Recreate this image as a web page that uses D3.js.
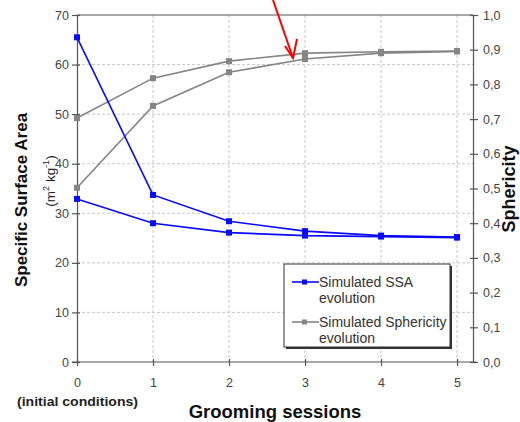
<!DOCTYPE html>
<html><head><meta charset="utf-8">
<script src="https://cdn.jsdelivr.net/npm/d3@7"></script>
<style>body{margin:0;background:#fff}svg{display:block}text{font-family:"Liberation Sans",Arial,sans-serif}</style>
</head><body><svg id="c" width="520" height="422"></svg>
<script>
const sessions = [0,1,2,3,4,5];
const ssaA = [65.5,33.7,28.4,26.4,25.5,25.2];
const ssaB = [32.9,28.0,26.1,25.5,25.3,25.1];
const sphA = [0.703,0.818,0.867,0.890,0.894,0.896];
const sphB = [0.502,0.738,0.835,0.873,0.890,0.895];
const leftTicks = [0,10,20,30,40,50,60,70];
const rightTicks = [0,0.1,0.2,0.3,0.4,0.5,0.6,0.7,0.8,0.9,1.0];
const legendLabels = [["Simulated SSA","evolution"],["Simulated Sphericity","evolution"]];

const svg = d3.select("#c");
const x = d3.scaleLinear().domain([0,5.21]).range([77,473]);
const yL = d3.scaleLinear().domain([0,70]).range([362,15]);
const yR = d3.scaleLinear().domain([0,1]).range([362,15]);
const blue = "#0a0aff", grey = "#858585", axisC = "#555", txtC = "#444";

// grid
const g = svg.append("g");
g.selectAll(".hg").data(leftTicks.filter(d=>d>0&&d<70)).join("line")
 .attr("x1",x(0)).attr("x2",x.range()[1]).attr("y1",d=>yL(d)).attr("y2",d=>yL(d))
 .attr("stroke","#c8c8c8").attr("stroke-dasharray","3,2");
g.selectAll(".vg").data(sessions.filter(d=>d>0)).join("line")
 .attr("x1",d=>x(d)).attr("x2",d=>x(d)).attr("y1",yL(70)).attr("y2",yL(0))
 .attr("stroke","#c8c8c8").attr("stroke-dasharray","3,2");
// top border
svg.append("line").attr("x1",x(0)).attr("x2",x.range()[1]).attr("y1",yL(70)).attr("y2",yL(70)).attr("stroke",axisC).attr("stroke-width",1.2);

// axes
const axL = svg.append("g").attr("transform",`translate(${x(0)},0)`)
 .call(d3.axisLeft(yL).tickValues(leftTicks).tickSize(5).tickPadding(3));
const axR = svg.append("g").attr("transform",`translate(${x.range()[1]},0)`)
 .call(d3.axisRight(yR).tickValues(rightTicks).tickSize(5).tickPadding(5).tickFormat(d=>d3.format(".1f")(d).replace(".",",")));
const axB = svg.append("g").attr("transform",`translate(0,${yL(0)})`)
 .call(d3.axisBottom(x).tickValues(sessions).tickSize(4).tickPadding(12).tickFormat(d3.format("d")));
[axL,axR,axB].forEach(a=>{
  a.select(".domain").attr("stroke",axisC).attr("stroke-width",1.2);
  a.selectAll(".tick line").attr("stroke",axisC).attr("stroke-width",1.2);
  a.selectAll(".tick text").attr("fill",txtC).style("font-size","12.5px").style("font-family","Liberation Sans, Arial, sans-serif");
});
// crossing ticks
axL.selectAll(".tick line").attr("x1",3);
axR.selectAll(".tick line").attr("x1",-3);
axB.selectAll(".tick line").attr("y1",-3);
axB.select(".domain").attr("d",`M72,0H${x.range()[1]+3}`);

// series
function series(vals, scale, color){
  const line = d3.line().x((d,i)=>x(sessions[i])).y(d=>scale(d));
  svg.append("path").attr("d",line(vals)).attr("fill","none").attr("stroke",color).attr("stroke-width",1.6);
  svg.append("g").selectAll("rect").data(vals).join("rect")
   .attr("x",(d,i)=>x(sessions[i])-3).attr("y",d=>scale(d)-3).attr("width",6).attr("height",6).attr("fill",color);
}
series(sphA,yR,grey);
series(sphB,yR,grey);
series(ssaA,yL,blue);
series(ssaB,yL,blue);

// legend
const lg = svg.append("g");
lg.append("rect").attr("x",286).attr("y",266).attr("width",166).attr("height",83).attr("fill","#333");
lg.append("rect").attr("x",284).attr("y",264).attr("width",166).attr("height",83).attr("fill","#fff").attr("stroke","#333").attr("stroke-width",1);
[[blue,282],[grey,322]].forEach(([c,yy],i)=>{
  lg.append("line").attr("x1",292).attr("x2",319).attr("y1",yy).attr("y2",yy).attr("stroke",c).attr("stroke-width",1.6);
  lg.append("rect").attr("x",302).attr("y",yy-2.5).attr("width",5).attr("height",5).attr("fill",c);
  legendLabels[i].forEach((t,j)=>lg.append("text").attr("x",319).attr("y",yy+5+j*16).text(t)
    .attr("fill","#333").style("font-size","14px"));
});

// axis titles
svg.append("text").attr("transform","translate(27,200) rotate(-90)").attr("text-anchor","middle")
 .style("font-size","17px").style("font-weight","bold").attr("fill","#111").text("Specific Surface Area");
const sub = svg.append("text").attr("transform","translate(55,181) rotate(-90)").attr("text-anchor","middle")
 .style("font-size","13.5px").attr("fill","#222");
sub.append("tspan").text("(m");
sub.append("tspan").attr("dy",-6).style("font-size","9px").text("2");
sub.append("tspan").attr("dy",6).text(" kg");
sub.append("tspan").attr("dy",-6).style("font-size","9px").text("-1");
sub.append("tspan").attr("dy",6).text(")");
svg.append("text").attr("transform","translate(515,189) rotate(-90)").attr("text-anchor","middle")
 .style("font-size","18px").style("font-weight","bold").attr("fill","#111").text("Sphericity");
svg.append("text").attr("x",275).attr("y",418).attr("text-anchor","middle")
 .style("font-size","18.5px").style("font-weight","bold").attr("fill","#111").text("Grooming sessions");
svg.append("text").attr("x",17).attr("y",406).attr("textLength",121).attr("lengthAdjust","spacingAndGlyphs")
 .style("font-size","12px").style("font-weight","bold").attr("fill","#222").text("(initial conditions)");

// red arrow
const arrow = [[273,0],[293,58]];
svg.append("line").attr("x1",arrow[0][0]).attr("y1",arrow[0][1]).attr("x2",arrow[1][0]).attr("y2",arrow[1][1]).attr("stroke","#f00").attr("stroke-width",2);
svg.append("path").attr("d",`M285,46L293,58L297,39`).attr("fill","none").attr("stroke","#f00").attr("stroke-width",2);
</script></body></html>
